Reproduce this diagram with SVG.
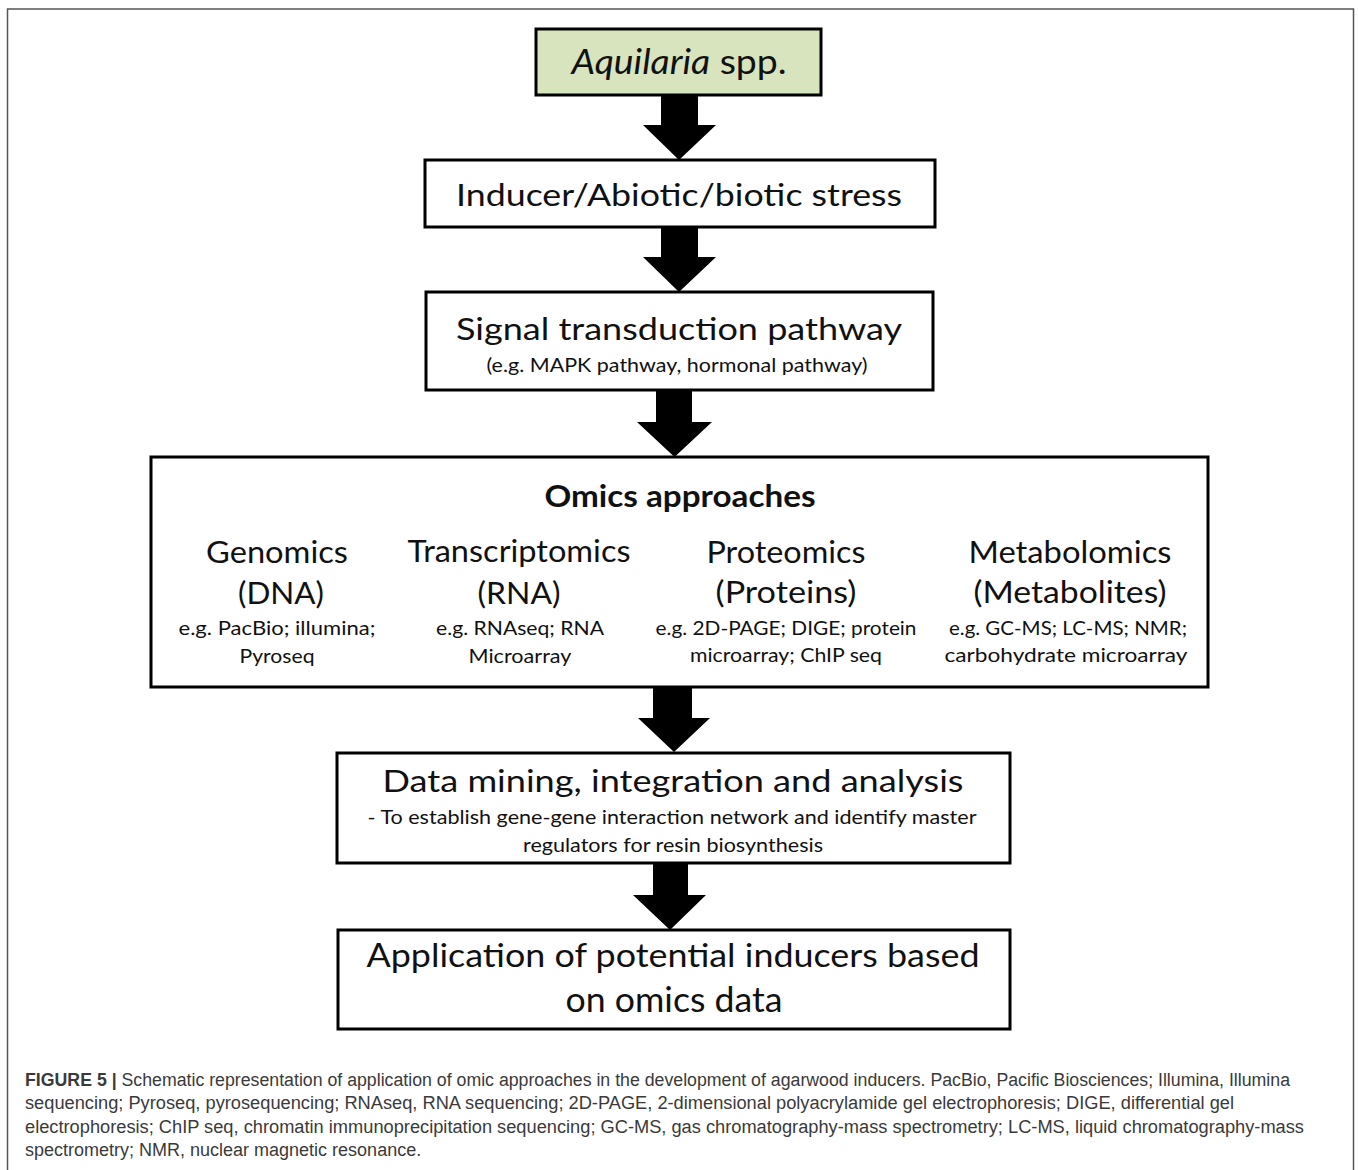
<svg xmlns="http://www.w3.org/2000/svg" width="1358" height="1170" viewBox="0 0 1358 1170">
<style>
.box{fill:#fff;stroke:#000;stroke-width:3}
.green{fill:#d7e4bd}
.arrow{fill:#000;stroke:none}
.t{font-family:Lato,"Open Sans","Liberation Sans",sans-serif;fill:#111;text-anchor:middle}
.h{font-size:31px}
.s{font-size:20px}
.c{font-size:30px}
.cap{font-family:"Liberation Sans",Arial,sans-serif;font-size:18px;fill:#3a3a3a}
</style>
<rect x="0" y="0" width="1358" height="1170" fill="#fff"/>
<rect x="7.5" y="9" width="1346" height="1180" fill="none" stroke="#555" stroke-width="1.5"/>

<g id="connectors">
<polygon class="arrow" points="661,95 698,95 698,125 716,125 679,160 643,125 661,125"/>
<polygon class="arrow" points="661,227 698,227 698,257 716,257 679,292 643,257 661,257"/>
<polygon class="arrow" points="656,390 692,390 692,422 712,422 674.5,457 637,422 656,422"/>
<polygon class="arrow" points="653,687 692,687 692,718 710,718 674,752 638,718 653,718"/>
<polygon class="arrow" points="653,863 688,863 688,895 706,895 670,930 633,895 653,895"/>
</g>

<g id="node-aquilaria">
<rect class="box green" x="536" y="29" width="285" height="66"/>
<text class="t" x="679" y="74" font-size="35" textLength="215" lengthAdjust="spacingAndGlyphs"><tspan font-style="italic">Aquilaria</tspan> spp.</text>
</g>

<g id="node-inducer">
<rect class="box" x="425" y="160" width="510" height="67"/>
<text class="t h" x="679" y="206" textLength="446" lengthAdjust="spacingAndGlyphs">Inducer/Abiotic/biotic stress</text>
</g>

<g id="node-signal">
<rect class="box" x="426" y="292" width="507" height="98"/>
<text class="t h" x="679" y="340" textLength="446" lengthAdjust="spacingAndGlyphs">Signal transduction pathway</text>
<text class="t s" x="677" y="372" textLength="381" lengthAdjust="spacingAndGlyphs">(e.g. MAPK pathway, hormonal pathway)</text>
</g>

<g id="node-omics">
<rect class="box" x="151" y="457" width="1057" height="230"/>
<text class="t c" x="680" y="507" font-weight="bold" textLength="271" lengthAdjust="spacingAndGlyphs">Omics approaches</text>
<text class="t c" x="277" y="563" textLength="142" lengthAdjust="spacingAndGlyphs">Genomics</text>
<text class="t c" x="281" y="604" font-size="32" textLength="86" lengthAdjust="spacingAndGlyphs">(DNA)</text>
<text class="t s" x="277" y="635" textLength="197" lengthAdjust="spacingAndGlyphs">e.g. PacBio; illumina;</text>
<text class="t s" x="277" y="663" textLength="75" lengthAdjust="spacingAndGlyphs">Pyroseq</text>
<text class="t c" x="519" y="562" textLength="223" lengthAdjust="spacingAndGlyphs">Transcriptomics</text>
<text class="t c" x="519" y="604" font-size="32" textLength="83" lengthAdjust="spacingAndGlyphs">(RNA)</text>
<text class="t s" x="520" y="635" textLength="168" lengthAdjust="spacingAndGlyphs">e.g. RNAseq; RNA</text>
<text class="t s" x="520" y="663" textLength="103" lengthAdjust="spacingAndGlyphs">Microarray</text>
<text class="t c" x="786" y="563" textLength="159" lengthAdjust="spacingAndGlyphs">Proteomics</text>
<text class="t c" x="786" y="603" font-size="32" textLength="141" lengthAdjust="spacingAndGlyphs">(Proteins)</text>
<text class="t s" x="786" y="635" textLength="261" lengthAdjust="spacingAndGlyphs">e.g. 2D-PAGE; DIGE; protein</text>
<text class="t s" x="786" y="662" textLength="192" lengthAdjust="spacingAndGlyphs">microarray; ChIP seq</text>
<text class="t c" x="1070" y="563" textLength="203" lengthAdjust="spacingAndGlyphs">Metabolomics</text>
<text class="t c" x="1070" y="603" font-size="32" textLength="193" lengthAdjust="spacingAndGlyphs">(Metabolites)</text>
<text class="t s" x="1068" y="635" textLength="238" lengthAdjust="spacingAndGlyphs">e.g. GC-MS; LC-MS; NMR;</text>
<text class="t s" x="1066" y="662" textLength="243" lengthAdjust="spacingAndGlyphs">carbohydrate microarray</text>
</g>

<g id="node-data">
<rect class="box" x="337" y="753" width="673" height="110"/>
<text class="t h" x="673" y="792" textLength="581" lengthAdjust="spacingAndGlyphs">Data mining, integration and analysis</text>
<text class="t s" x="672" y="824" textLength="609" lengthAdjust="spacingAndGlyphs">- To establish gene-gene interaction network and identify master</text>
<text class="t s" x="673" y="852" textLength="300" lengthAdjust="spacingAndGlyphs">regulators for resin biosynthesis</text>
</g>

<g id="node-application">
<rect class="box" x="338" y="930" width="672" height="99"/>
<text class="t" x="673" y="967" font-size="33" textLength="613" lengthAdjust="spacingAndGlyphs">Application of potential inducers based</text>
<text class="t" x="674" y="1012" font-size="34" textLength="217" lengthAdjust="spacingAndGlyphs">on omics data</text>
</g>

<g id="caption">
<text class="cap" x="25" y="1086" textLength="1265" lengthAdjust="spacingAndGlyphs"><tspan font-weight="bold">FIGURE 5 |</tspan> Schematic representation of application of omic approaches in the development of agarwood inducers. PacBio, Pacific Biosciences; Illumina, Illumina</text>
<text class="cap" x="25" y="1109" textLength="1209" lengthAdjust="spacingAndGlyphs">sequencing; Pyroseq, pyrosequencing; RNAseq, RNA sequencing; 2D-PAGE, 2-dimensional polyacrylamide gel electrophoresis; DIGE, differential gel</text>
<text class="cap" x="25" y="1133" textLength="1279" lengthAdjust="spacingAndGlyphs">electrophoresis; ChIP seq, chromatin immunoprecipitation sequencing; GC-MS, gas chromatography-mass spectrometry; LC-MS, liquid chromatography-mass</text>
<text class="cap" x="25" y="1156">spectrometry; NMR, nuclear magnetic resonance.</text>
</g>
</svg>
